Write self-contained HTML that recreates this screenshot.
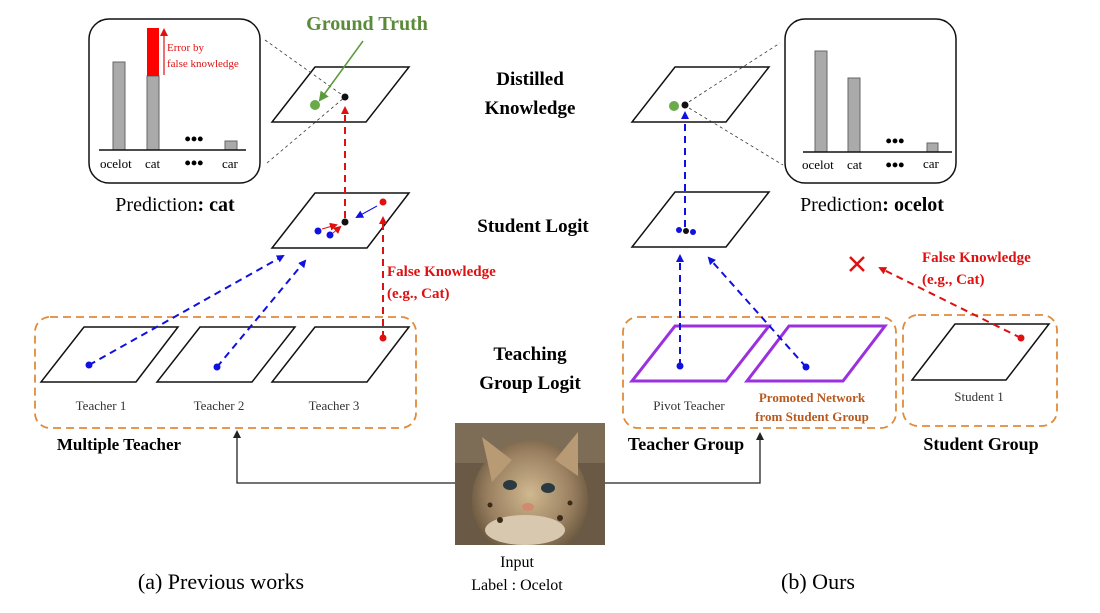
<!DOCTYPE html>
<html><head><meta charset="utf-8"><style>
html,body{margin:0;padding:0;background:#fff;}
svg{display:block;font-family:"Liberation Serif",serif;}
</style></head><body>
<svg width="1100" height="613" viewBox="0 0 1100 613" xmlns="http://www.w3.org/2000/svg">
<defs>
<marker id="ab" markerWidth="8" markerHeight="8" refX="6" refY="4" orient="auto" markerUnits="userSpaceOnUse"><path d="M0,0 L8,4 L0,8 Z" fill="#1010e0"/></marker>
<marker id="ar" markerWidth="8" markerHeight="8" refX="6" refY="4" orient="auto" markerUnits="userSpaceOnUse"><path d="M0,0 L8,4 L0,8 Z" fill="#e01010"/></marker>
<marker id="ag" markerWidth="10" markerHeight="10" refX="8" refY="5" orient="auto" markerUnits="userSpaceOnUse"><path d="M0,0 L10,5 L0,10 Z" fill="#5a9a3a"/></marker>
<marker id="ak" markerWidth="8" markerHeight="8" refX="6" refY="4" orient="auto" markerUnits="userSpaceOnUse"><path d="M0,0 L8,4 L0,8 Z" fill="#222"/></marker>
<radialGradient id="catg" cx="0.5" cy="0.45" r="0.6"><stop offset="0" stop-color="#d0b890"/><stop offset="0.6" stop-color="#9a8060"/><stop offset="1" stop-color="#5a4a35"/></radialGradient>
<clipPath id="imgclip"><rect x="455" y="423" width="150" height="122"/></clipPath>
</defs>

<!-- LEFT prediction box -->
<rect x="89" y="19" width="171" height="164" rx="20" fill="none" stroke="#111" stroke-width="1.5"/>
<rect x="113" y="62" width="12" height="88" fill="#aaa" stroke="#666"/>
<rect x="147" y="76" width="12" height="74" fill="#aaa" stroke="#666"/>
<rect x="147" y="28" width="12" height="48" fill="#f00"/>
<rect x="225" y="141" width="12" height="9" fill="#aaa" stroke="#666"/>
<line x1="99" y1="150" x2="246" y2="150" stroke="#111" stroke-width="1.5"/>
<line x1="164" y1="75" x2="164" y2="30" stroke="#e01010" stroke-width="1.2" marker-end="url(#ar)"/>
<text x="167" y="51" font-size="11" fill="#e01010">Error by</text>
<text x="167" y="67" font-size="11" fill="#e01010">false knowledge</text>
<text x="194" y="145" font-size="18" text-anchor="middle" font-weight="bold">•••</text>
<text x="100" y="168" font-size="13">ocelot</text>
<text x="145" y="168" font-size="13">cat</text>
<text x="194" y="169" font-size="18" text-anchor="middle" font-weight="bold">•••</text>
<text x="222" y="168" font-size="13">car</text>
<text x="175" y="211" font-size="20" text-anchor="middle">Prediction<tspan font-weight="bold">: cat</tspan></text>

<!-- left distilled -->
<polygon points="315,67 409,67 366,122 272,122" fill="none" stroke="#111" stroke-width="1.5"/>
<line x1="265" y1="40" x2="345" y2="97" stroke="#333" stroke-width="0.8" stroke-dasharray="3,3"/>
<line x1="267" y1="163" x2="345" y2="97" stroke="#333" stroke-width="0.8" stroke-dasharray="3,3"/>
<circle cx="315" cy="105" r="5" fill="#6aaa4a"/>
<circle cx="345" cy="97" r="3.5" fill="#111"/>
<line x1="363" y1="41" x2="320" y2="100" stroke="#5a9a3a" stroke-width="1.5" marker-end="url(#ag)"/>
<text x="367" y="30" font-size="20" font-weight="bold" fill="#5a8a3a" text-anchor="middle">Ground Truth</text>

<!-- left student logit -->
<polygon points="315,193 409,193 367,248 272,248" fill="none" stroke="#111" stroke-width="1.5"/>
<line x1="345" y1="218" x2="345" y2="108" stroke="#e01010" stroke-width="2" stroke-dasharray="7,5" marker-end="url(#ar)"/>
<circle cx="345" cy="222" r="3.5" fill="#111"/>
<circle cx="318" cy="231" r="3.5" fill="#1010e0"/>
<circle cx="330" cy="235" r="3.5" fill="#1010e0"/>
<circle cx="383" cy="202" r="3.5" fill="#e01010"/>
<line x1="377" y1="206" x2="357" y2="217" stroke="#1010e0" stroke-width="1" marker-end="url(#ab)"/>
<line x1="322" y1="229" x2="336" y2="225" stroke="#e01010" stroke-width="1" marker-end="url(#ar)"/>
<line x1="333" y1="233" x2="340" y2="227" stroke="#e01010" stroke-width="1" marker-end="url(#ar)"/>

<!-- left teachers -->
<rect x="35" y="317" width="381" height="111" rx="15" fill="none" stroke="#e08a3a" stroke-width="1.8" stroke-dasharray="8,5"/>
<polygon points="84,327 178,327 136,382 41,382" fill="none" stroke="#111" stroke-width="1.5"/>
<polygon points="200,327 295,327 252,382 157,382" fill="none" stroke="#111" stroke-width="1.5"/>
<polygon points="315,327 409,327 367,382 272,382" fill="none" stroke="#111" stroke-width="1.5"/>
<circle cx="89" cy="365" r="3.5" fill="#1010e0"/>
<circle cx="217" cy="367" r="3.5" fill="#1010e0"/>
<circle cx="383" cy="338" r="3.5" fill="#e01010"/>
<line x1="89" y1="365" x2="283" y2="256" stroke="#1010e0" stroke-width="2" stroke-dasharray="7,5" marker-end="url(#ab)"/>
<line x1="217" y1="367" x2="305" y2="261" stroke="#1010e0" stroke-width="2" stroke-dasharray="7,5" marker-end="url(#ab)"/>
<line x1="383" y1="338" x2="383" y2="218" stroke="#e01010" stroke-width="2" stroke-dasharray="7,5" marker-end="url(#ar)"/>
<text x="387" y="276" font-size="15" font-weight="bold" fill="#e01010">False Knowledge</text>
<text x="387" y="298" font-size="15" font-weight="bold" fill="#e01010">(e.g., Cat)</text>
<text x="101" y="410" font-size="13" fill="#333" text-anchor="middle">Teacher 1</text>
<text x="219" y="410" font-size="13" fill="#333" text-anchor="middle">Teacher 2</text>
<text x="334" y="410" font-size="13" fill="#333" text-anchor="middle">Teacher 3</text>
<text x="119" y="450" font-size="17" font-weight="bold" text-anchor="middle">Multiple Teacher</text>

<!-- center labels -->
<text x="530" y="85" font-size="19" font-weight="bold" text-anchor="middle">Distilled</text>
<text x="530" y="114" font-size="19" font-weight="bold" text-anchor="middle">Knowledge</text>
<text x="533" y="232" font-size="19" font-weight="bold" text-anchor="middle">Student Logit</text>
<text x="530" y="360" font-size="19" font-weight="bold" text-anchor="middle">Teaching</text>
<text x="530" y="389" font-size="19" font-weight="bold" text-anchor="middle">Group Logit</text>

<!-- image -->
<g clip-path="url(#imgclip)">
<rect x="455" y="423" width="150" height="122" fill="#6a5a45"/>
<rect x="455" y="423" width="150" height="40" fill="#8a7a62" opacity="0.6"/>
<ellipse cx="530" cy="500" rx="58" ry="60" fill="url(#catg)"/>
<polygon points="482,437 512,460 492,482" fill="#b89a75"/>
<polygon points="578,432 555,460 578,476" fill="#b89a75"/>
<ellipse cx="510" cy="485" rx="7" ry="5" fill="#2a3a40"/>
<ellipse cx="548" cy="488" rx="7" ry="5" fill="#2a3a40"/>
<ellipse cx="528" cy="507" rx="6" ry="4" fill="#d08a70"/>
<ellipse cx="525" cy="530" rx="40" ry="15" fill="#d8c8b0"/>
<circle cx="500" cy="520" r="3" fill="#3a2a1a"/><circle cx="560" cy="518" r="3" fill="#3a2a1a"/><circle cx="490" cy="505" r="2.5" fill="#3a2a1a"/><circle cx="570" cy="503" r="2.5" fill="#3a2a1a"/>
</g>
<text x="517" y="567" font-size="16" text-anchor="middle">Input</text>
<text x="517" y="590" font-size="16" text-anchor="middle">Label : Ocelot</text>

<!-- input arrows -->
<polyline points="455,483 237,483 237,432" fill="none" stroke="#222" stroke-width="1.3" marker-end="url(#ak)"/>
<polyline points="605,483 760,483 760,434" fill="none" stroke="#222" stroke-width="1.3" marker-end="url(#ak)"/>

<text x="221" y="589" font-size="22" text-anchor="middle">(a) Previous works</text>
<text x="818" y="589" font-size="22" text-anchor="middle">(b) Ours</text>

<!-- RIGHT distilled -->
<polygon points="675,67 769,67 726,122 632,122" fill="none" stroke="#111" stroke-width="1.5"/>
<line x1="684" y1="105" x2="780" y2="43" stroke="#333" stroke-width="0.8" stroke-dasharray="3,3"/>
<line x1="684" y1="105" x2="783" y2="165" stroke="#333" stroke-width="0.8" stroke-dasharray="3,3"/>
<circle cx="674" cy="106" r="5" fill="#6aaa4a"/>
<circle cx="685" cy="105" r="3.5" fill="#111"/>
<rect x="785" y="19" width="171" height="164" rx="20" fill="none" stroke="#111" stroke-width="1.5"/>
<rect x="815" y="51" width="12" height="101" fill="#aaa" stroke="#666"/>
<rect x="848" y="78" width="12" height="74" fill="#aaa" stroke="#666"/>
<rect x="927" y="143" width="11" height="9" fill="#aaa" stroke="#666"/>
<line x1="803" y1="152" x2="952" y2="152" stroke="#111" stroke-width="1.5"/>
<text x="895" y="147" font-size="18" text-anchor="middle" font-weight="bold">•••</text>
<text x="802" y="169" font-size="13">ocelot</text>
<text x="847" y="169" font-size="13">cat</text>
<text x="895" y="171" font-size="18" text-anchor="middle" font-weight="bold">•••</text>
<text x="923" y="168" font-size="13">car</text>
<text x="872" y="211" font-size="20" text-anchor="middle">Prediction<tspan font-weight="bold">: ocelot</tspan></text>

<!-- right student logit -->
<polygon points="675,192 769,192 726,247 632,247" fill="none" stroke="#111" stroke-width="1.5"/>
<line x1="685" y1="227" x2="685" y2="113" stroke="#1010e0" stroke-width="2" stroke-dasharray="7,5" marker-end="url(#ab)"/>
<circle cx="679" cy="230" r="3" fill="#1010e0"/>
<circle cx="693" cy="232" r="3" fill="#1010e0"/>
<circle cx="686" cy="231" r="3" fill="#111"/>

<!-- teacher group -->
<rect x="623" y="317" width="273" height="111" rx="15" fill="none" stroke="#e08a3a" stroke-width="1.8" stroke-dasharray="8,5"/>
<polygon points="675,326 769,326 726,381 632,381" fill="none" stroke="#9b30e0" stroke-width="3"/>
<polygon points="789,326 885,326 843,381 747,381" fill="none" stroke="#9b30e0" stroke-width="3"/>
<circle cx="680" cy="366" r="3.5" fill="#1010e0"/>
<circle cx="806" cy="367" r="3.5" fill="#1010e0"/>
<line x1="680" y1="366" x2="680" y2="256" stroke="#1010e0" stroke-width="2" stroke-dasharray="7,5" marker-end="url(#ab)"/>
<line x1="806" y1="367" x2="709" y2="258" stroke="#1010e0" stroke-width="2" stroke-dasharray="7,5" marker-end="url(#ab)"/>
<text x="689" y="410" font-size="13" fill="#333" text-anchor="middle">Pivot Teacher</text>
<text x="812" y="402" font-size="13" font-weight="bold" fill="#b85a20" text-anchor="middle">Promoted Network</text>
<text x="812" y="421" font-size="13" font-weight="bold" fill="#b85a20" text-anchor="middle">from Student Group</text>
<text x="686" y="450" font-size="18" font-weight="bold" text-anchor="middle">Teacher Group</text>

<!-- student group -->
<rect x="903" y="315" width="154" height="111" rx="15" fill="none" stroke="#e08a3a" stroke-width="1.8" stroke-dasharray="8,5"/>
<polygon points="955,324 1049,324 1006,380 912,380" fill="none" stroke="#111" stroke-width="1.5"/>
<circle cx="1021" cy="338" r="3.5" fill="#e01010"/>
<line x1="1021" y1="338" x2="880" y2="268" stroke="#e01010" stroke-width="2" stroke-dasharray="7,5" marker-end="url(#ar)"/>
<text x="979" y="401" font-size="13" fill="#333" text-anchor="middle">Student 1</text>
<text x="981" y="450" font-size="18" font-weight="bold" text-anchor="middle">Student Group</text>
<path d="M850,257 L864,271 M864,257 L850,271" stroke="#e01010" stroke-width="2.5"/>
<text x="922" y="262" font-size="15" font-weight="bold" fill="#e01010">False Knowledge</text>
<text x="922" y="284" font-size="15" font-weight="bold" fill="#e01010">(e.g., Cat)</text>
</svg>
</body></html>
